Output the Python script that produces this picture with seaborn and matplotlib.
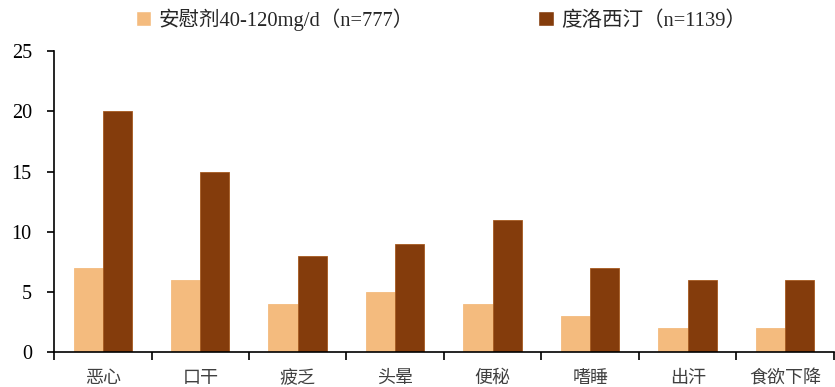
import matplotlib
matplotlib.use("Agg")
import matplotlib.pyplot as plt
import seaborn as sns
import pandas as pd
import numpy as np

categories = ["恶心", "口干", "疲乏", "头晕", "便秘", "嗜睡", "出汗", "食欲下降"]
placebo = [7, 6, 4, 5, 4, 3, 2, 2]
duloxetine = [20, 15, 8, 9, 11, 7, 6, 6]
series_names = ["安慰剂40-120mg/d（n=777）", "度洛西汀（n=1139）"]
colors = ["#F4BB7E", "#843C0C"]
yticks = [0, 5, 10, 15, 20, 25]

sns.set_theme(style="white")
plt.rcParams["font.family"] = ["Liberation Serif", "Noto Sans CJK SC", "DejaVu Sans"]

df = pd.DataFrame({
    "category": categories * 2,
    "value": placebo + duloxetine,
    "series": [series_names[0]] * len(categories) + [series_names[1]] * len(categories),
})

fig = plt.figure(figsize=(8.35, 3.87), dpi=100)
ax = fig.add_axes([0.0647, 0.0905, 0.934, 0.777])

sns.barplot(data=df, x="category", y="value", hue="series", palette=colors,
            width=0.6, ax=ax, legend=True, saturation=1)
for bar, c in zip(ax.patches, [colors[0]] * 8 + [colors[1]] * 8):
    bar.set_edgecolor("#A65A1F" if c == colors[1] else colors[0])
    bar.set_linewidth(0.6)

ax.set_xlim(-0.5, len(categories) - 0.5)
ax.set_ylim(0, 25)
ax.set_yticks(yticks)
ax.set_xlabel("")
ax.set_ylabel("")

for s in ["top", "right"]:
    ax.spines[s].set_visible(False)
for s in ["left", "bottom"]:
    ax.spines[s].set_color("black")
    ax.spines[s].set_linewidth(1.2)

# category labels without tick marks; tick marks at group boundaries
ax.tick_params(axis="x", which="major", length=0, pad=12)
ax.set_xticks(np.arange(-0.5, len(categories) + 0.5, 1.0), minor=True)
ax.tick_params(axis="x", which="minor", length=6, width=1.2, direction="out", color="black", bottom=True)
ax.tick_params(axis="y", length=5, width=1.2, direction="out", color="black", left=True, pad=11)

for lab in ax.get_xticklabels():
    lab.set_fontfamily(["Noto Sans CJK SC", "DejaVu Sans"])
    lab.set_fontsize(13)
    lab.set_color("#404040")
for lab in ax.get_yticklabels():
    lab.set_fontfamily(["Liberation Serif"])
    lab.set_fontsize(14.5)
    lab.set_color("black")

leg = ax.legend(loc="center", bbox_to_anchor=(0.496, 1.105), ncol=2, frameon=False,
                handlelength=0.75, handleheight=0.75, handletextpad=0.35,
                columnspacing=6.05,
                prop={"family": ["Liberation Serif", "Noto Sans CJK SC"], "size": 14.8})

fig.savefig("out.png", dpi=100)
